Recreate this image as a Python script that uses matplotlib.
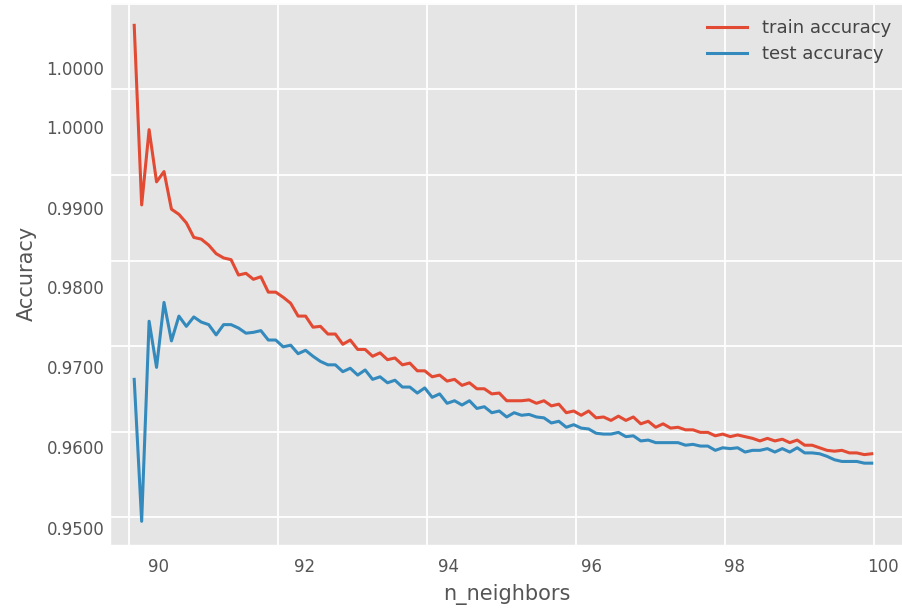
import numpy as np
import matplotlib
matplotlib.use("Agg")
from matplotlib import pyplot as plt

plt.style.use("ggplot")

# accuracy per n_neighbors value
n_neighbors = np.linspace(90.07, 99.97, 100)

train_accuracy = [
    1.0075, 0.9865, 0.9953, 0.9892, 0.9904, 0.9860, 0.9854, 0.9844, 0.9827, 0.9825,
    0.9818, 0.9808, 0.9803, 0.9801, 0.9783, 0.9785, 0.9778, 0.9781, 0.9763, 0.9763,
    0.9757, 0.9750, 0.9735, 0.9735, 0.9722, 0.9723, 0.9714, 0.9714, 0.9702, 0.9707,
    0.9696, 0.9696, 0.9688, 0.9692, 0.9684, 0.9686, 0.9678, 0.9680, 0.9671, 0.9671,
    0.9664, 0.9666, 0.9659, 0.9661, 0.9654, 0.9657, 0.9650, 0.9650, 0.9644, 0.9645,
    0.9636, 0.9636, 0.9636, 0.9637, 0.9633, 0.9636, 0.9630, 0.9632, 0.9622, 0.9624,
    0.9619, 0.9624, 0.9616, 0.9617, 0.9613, 0.9618, 0.9613, 0.9617, 0.9609, 0.9612,
    0.9605, 0.9609, 0.9604, 0.9605, 0.9602, 0.9602, 0.9599, 0.9599, 0.9595, 0.9597,
    0.9594, 0.9596, 0.9594, 0.9592, 0.9589, 0.9592, 0.9589, 0.9591, 0.9587, 0.9590,
    0.9584, 0.9584, 0.9581, 0.9578, 0.9577, 0.9578, 0.9575, 0.9575, 0.9573, 0.9574,
]

test_accuracy = [
    0.9661, 0.9495, 0.9729, 0.9675, 0.9751, 0.9706, 0.9735, 0.9723, 0.9734, 0.9728,
    0.9725, 0.9713, 0.9725, 0.9725, 0.9721, 0.9715, 0.9716, 0.9718, 0.9707, 0.9707,
    0.9699, 0.9701, 0.9691, 0.9695, 0.9688, 0.9682, 0.9678, 0.9678, 0.9670, 0.9674,
    0.9666, 0.9672, 0.9661, 0.9664, 0.9657, 0.9660, 0.9652, 0.9652, 0.9645, 0.9651,
    0.9640, 0.9644, 0.9633, 0.9636, 0.9631, 0.9636, 0.9627, 0.9629, 0.9622, 0.9624,
    0.9617, 0.9622, 0.9619, 0.9620, 0.9617, 0.9616, 0.9610, 0.9612, 0.9605, 0.9608,
    0.9604, 0.9603, 0.9598, 0.9597, 0.9597, 0.9599, 0.9594, 0.9595, 0.9589, 0.9590,
    0.9587, 0.9587, 0.9587, 0.9587, 0.9584, 0.9585, 0.9583, 0.9583, 0.9578, 0.9581,
    0.9580, 0.9581, 0.9576, 0.9578, 0.9578, 0.9580, 0.9576, 0.9580, 0.9576, 0.9581,
    0.9575, 0.9575, 0.9574, 0.9571, 0.9567, 0.9565, 0.9565, 0.9565, 0.9563, 0.9563,
]

x_grid = [90, 92, 94, 96, 98, 100]
x_labels = ["90", "92", "94", "96", "98", "100"]
y_grid = [0.95, 0.96, 0.97, 0.98, 0.99, 1.00, 1.01]
y_labels = ["0.9500", "0.9600", "0.9700", "0.9800", "0.9900", "1.0000", "1.0000"]

fig = plt.figure(figsize=(9.03, 6.08), dpi=100)
ax = fig.add_axes([110 / 903, 63 / 608, 793 / 903, 543 / 608])

ax.plot(n_neighbors, train_accuracy, label="train accuracy", lw=2.2)
ax.plot(n_neighbors, test_accuracy, label="test accuracy", lw=2.2)

ax.set_xlim(89.745, 100.39)
ax.set_ylim(0.94673, 1.01023)

# grid on the major ticks, labels on minor ticks placed beside them
ax.set_xticks(x_grid)
ax.set_xticklabels([])
ax.set_yticks(y_grid)
ax.set_yticklabels([])
ax.set_xticks([90.401, 92.360, 94.285, 96.209, 98.134, 100.126], x_labels, minor=True)
ax.set_yticks([0.94868, 0.95822, 0.96758, 0.97694, 0.98611, 0.99565, 1.00248],
              y_labels, minor=True)
ax.tick_params(which="both", length=0)
ax.tick_params(axis="x", which="minor", labelsize=12, pad=9)
ax.tick_params(axis="y", which="minor", labelsize=12, pad=4)
ax.grid(True, which="major", color="white", lw=1.3)
ax.grid(False, which="minor")

ax.set_xlabel("n_neighbors", fontsize=15, labelpad=6)
ax.set_ylabel("Accuracy", fontsize=15, labelpad=7)

ax.legend(loc="upper right", bbox_to_anchor=(1.0063, 1.0), frameon=False,
          fontsize=13, handlelength=2.2, labelspacing=0.45, borderaxespad=0.55)
for t in ax.get_legend().get_texts():
    t.set_color("#444444")

plt.savefig("out.png", dpi=100)
